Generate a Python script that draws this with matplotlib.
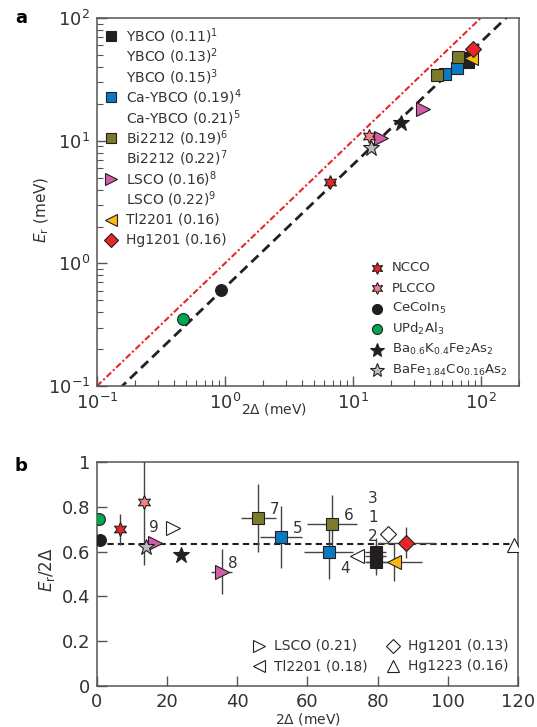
import numpy as np
import matplotlib
matplotlib.use('Agg')
import matplotlib.pyplot as plt

plt.rcParams['font.family'] = ['DejaVu Sans']
plt.rcParams['mathtext.default'] = 'regular'

# ---- data: 2*Delta (meV), Er/2Delta, errors ----
names = ['YBCO (0.11)', 'YBCO (0.13)', 'YBCO (0.15)', 'Ca-YBCO (0.19)', 'Ca-YBCO (0.21)',
         'Bi2212 (0.19)', 'Bi2212 (0.22)', 'LSCO (0.16)', 'LSCO (0.22)',
         'Tl2201 (0.16)', 'Hg1201 (0.16)',
         'NCCO', 'PLCCO', 'CeCoIn5', 'UPd2Al3', 'BaK', 'BaFeCo']
gap2 = [79.5, 79.5, 79.5, 66, 52.4, 67, 46, 35.5, 16.5, 84.6, 88,
        6.6, 13.4, 0.93, 0.47, 24, 14]
ratio = [0.58, 0.555, 0.60, 0.60, 0.665, 0.725, 0.75, 0.51, 0.64, 0.555, 0.64,
         0.70, 0.82, 0.65, 0.745, 0.585, 0.62]
gap_err = [3, 3, 3, 7, 6, 7, 5, 3, 0, 8, 8,
           0.5, 1, 0, 0, 0, 0]
ratio_err = [0.06, 0.06, 0.06, 0.12, 0.14, 0.13, 0.15, 0.1, 0, 0.085, 0.07,
             0.07, 0.28, 0, 0, 0, 0]
numbers = ['1', '2', '3', '4', '5', '6', '7', '8', '9', '', '',
           '', '', '', '', '', '']

# open symbols, panel b only
open_names = ['LSCO (0.21)', 'Tl2201 (0.18)', 'Hg1201 (0.13)', 'Hg1223 (0.16)']
open_gap2 = [21.7, 74, 83, 119]
open_ratio = [0.705, 0.58, 0.68, 0.63]

scale = 0.635   # Er = scale * 2Delta

# ---- styles ----
black = '#231f20'
blue = '#0a7bc2'
olive = '#7d7a2c'
mag = '#d45ba9'
yellow = '#fdb913'
red = '#e8262a'
pink = '#ef8187'
green = '#00a651'
grey = '#bdbdbd'
hexstar = (6, 1, 0)
styles = [('s', black, 8), ('s', black, 8), ('s', black, 8),
          ('s', blue, 8), ('s', blue, 8), ('s', olive, 8), ('s', olive, 8),
          ('>', mag, 10), ('>', mag, 10), ('<', yellow, 10), ('D', red, 8),
          (hexstar, red, 10), (hexstar, pink, 10), ('o', black, 8.5), ('o', green, 8.5),
          ('*', black, 12), ('*', grey, 12)]
open_markers = ['>', '<', 'D', '^']
open_sizes = [10, 10, 8, 10]

# number label offsets (points)
num_off = {'1': (-2, 28), '2': (-2, 18), '3': (-2, 38), '4': (12, -12), '5': (12, 6),
           '6': (12, 6), '7': (12, 6), '8': (8, 6), '9': (-1, 11)}

txt = '#333333'
spine_c = '#555555'

fig = plt.figure(figsize=(5.37, 7.27), dpi=100)
axa = fig.add_axes([0.1806, 0.469, 0.786, 0.506])
axb = fig.add_axes([0.1806, 0.0564, 0.784, 0.308])

# ---------------- panel a ----------------
xx = np.array([0.1, 200])
axa.plot(xx, xx, color=red, lw=1.5, dashes=(3, 1.2, 1, 1.2), zorder=1)
axa.plot(xx, scale * xx, color=black, lw=2, dashes=(3.5, 2), zorder=1)

for i in range(len(names)):
    m, c, s = styles[i]
    er = ratio[i] * gap2[i]
    axa.errorbar(gap2[i], er, xerr=gap_err[i] if gap_err[i] else None,
                 fmt='none', ecolor='#555555', elinewidth=1, zorder=2)
    axa.plot(gap2[i], er, linestyle='none', marker=m, color=c, ms=s,
             mec=black, mew=0.8, zorder=3)

axa.set_xscale('log')
axa.set_yscale('log')
axa.set_xlim(0.1, 200)
axa.set_ylim(0.1, 100)

# key 1 (cuprates), evenly spaced rows
leg1_labels = ['YBCO (0.11)$^{1}$', 'YBCO (0.13)$^{2}$', 'YBCO (0.15)$^{3}$',
               'Ca-YBCO (0.19)$^{4}$', 'Ca-YBCO (0.21)$^{5}$', 'Bi2212 (0.19)$^{6}$',
               'Bi2212 (0.22)$^{7}$', 'LSCO (0.16)$^{8}$', 'LSCO (0.22)$^{9}$',
               'Tl2201 (0.16)', 'Hg1201 (0.16)']
leg1_idx = [0, None, None, 3, None, 5, None, 7, None, 9, 10]
for k, (lab, idx) in enumerate(zip(leg1_labels, leg1_idx)):
    y = 0.951 - k * 0.0555
    if idx is not None:
        m, c, s = styles[idx]
        axa.plot(0.033, y, transform=axa.transAxes, linestyle='none', marker=m,
                 color=c, ms=s * 0.85, mec=black, mew=0.8, clip_on=False)
    axa.text(0.069, y, lab, transform=axa.transAxes, va='center', ha='left',
             fontsize=10, color=txt)

# key 2
leg2_labels = ['NCCO', 'PLCCO', 'CeCoIn$_5$', 'UPd$_2$Al$_3$',
               'Ba$_{0.6}$K$_{0.4}$Fe$_2$As$_2$', 'BaFe$_{1.84}$Co$_{0.16}$As$_2$']
for k, idx in enumerate(range(11, 17)):
    y = 0.321 - k * 0.0555
    m, c, s = styles[idx]
    axa.plot(0.663, y, transform=axa.transAxes, linestyle='none', marker=m,
             color=c, ms=s * 0.85, mec=black, mew=0.8)
    axa.text(0.699, y, leg2_labels[k], transform=axa.transAxes, va='center',
             ha='left', fontsize=9.5, color=txt)

axa.set_xlabel(r'$2\mathit{\Delta}$ (meV)', fontsize=10, color=txt)
axa.xaxis.set_label_coords(0.42, -0.04)
axa.set_ylabel(r'$\mathit{E}_r$ (meV)', fontsize=11, color=txt)
axa.yaxis.set_label_coords(-0.11, 0.48)

# ---------------- panel b ----------------
axb.axhline(scale, color=black, lw=1.5, dashes=(3, 2), zorder=1)
for i in range(len(names)):
    m, c, s = styles[i]
    axb.errorbar(gap2[i], ratio[i],
                 xerr=gap_err[i] if gap_err[i] else None,
                 yerr=ratio_err[i] if ratio_err[i] else None,
                 fmt='none', ecolor='#444444', elinewidth=1, zorder=2)
    axb.plot(gap2[i], ratio[i], linestyle='none', marker=m, color=c, ms=s,
             mec=black, mew=0.8, zorder=3)
    if numbers[i]:
        axb.annotate(numbers[i], (gap2[i], ratio[i]), xytext=num_off[numbers[i]],
                     textcoords='offset points', ha='center', va='center',
                     fontsize=11, color=txt)

for i in range(len(open_names)):
    axb.plot(open_gap2[i], open_ratio[i], linestyle='none', marker=open_markers[i],
             ms=open_sizes[i], mfc='white', mec=black, mew=0.8, zorder=3)

# key for open symbols (2 columns x 2 rows)
key_x = [0.385, 0.385, 0.703, 0.703]
key_y = [0.179, 0.089, 0.179, 0.089]
for i in range(len(open_names)):
    axb.plot(key_x[i], key_y[i], transform=axb.transAxes, linestyle='none',
             marker=open_markers[i], ms=open_sizes[i] * 0.9, mfc='white',
             mec=black, mew=0.8)
    axb.text(key_x[i] + 0.035, key_y[i], open_names[i], transform=axb.transAxes,
             va='center', ha='left', fontsize=10, color=txt)

axb.set_xlim(0, 120)
axb.set_ylim(0, 1)
axb.set_xticks([0, 20, 40, 60, 80, 100, 120])
axb.set_yticks([0, 0.2, 0.4, 0.6, 0.8, 1])
axb.set_yticklabels(['0', '0.2', '0.4', '0.6', '0.8', '1'])
axb.set_xlabel(r'$2\mathit{\Delta}$ (meV)', fontsize=10, color=txt)
axb.xaxis.set_label_coords(0.5, -0.11)
axb.set_ylabel(r'$\mathit{E}_r/2\mathit{\Delta}$', fontsize=12, color=txt)
axb.yaxis.set_label_coords(-0.095, 0.52)

for ax in (axa, axb):
    for sp in ax.spines.values():
        sp.set_color(spine_c)
        sp.set_linewidth(1.1)
    ax.tick_params(which='both', direction='in', top=False, right=False,
                   color=spine_c, labelcolor=txt, labelsize=13)
    ax.tick_params(which='major', length=7, width=1, pad=5)
    ax.tick_params(which='minor', length=4, width=0.8)

fig.text(15 / 537, 1 - 18 / 727, 'a', fontsize=13, fontweight='bold', va='center')
fig.text(15 / 537, 1 - 466 / 727, 'b', fontsize=13, fontweight='bold', va='center')

fig.savefig('out.png', dpi=100)
